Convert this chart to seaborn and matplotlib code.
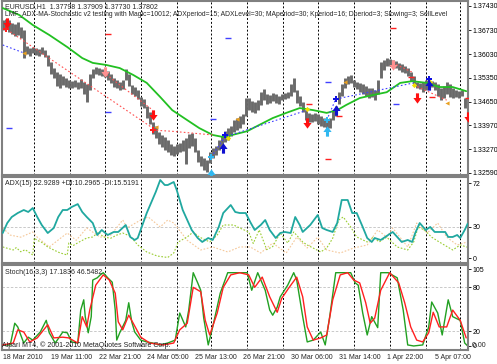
import seaborn as sns
import matplotlib.pyplot as plt
from matplotlib.path import Path

# ---------------- data ----------------
# H1 bars, one entry every 2 hours (bar index 0, 2, 4, ...)
bar_high = [1.3702, 1.3705, 1.3702, 1.3694, 1.3691, 1.3697, 1.3682, 1.3673, 1.3627, 1.3621,
            1.3624, 1.3621, 1.3618, 1.3624, 1.3615, 1.3601, 1.3580, 1.3563, 1.3551, 1.3546,
            1.3540, 1.3534, 1.3528, 1.3525, 1.3528, 1.3522, 1.3531, 1.3522, 1.3517,
            1.3546, 1.3560, 1.3566, 1.3563, 1.3560, 1.3557, 1.3554, 1.3546, 1.3534, 1.3528,
            1.3522, 1.3528, 1.3560, 1.3546, 1.3514, 1.3508, 1.3499, 1.3479, 1.3473, 1.3453,
            1.3436, 1.3407, 1.3395, 1.3378, 1.3369, 1.3363, 1.3354, 1.3343, 1.3337, 1.3343,
            1.3346, 1.3354, 1.3360, 1.3372, 1.3375, 1.3360, 1.3325, 1.3308, 1.3302, 1.3296,
            1.3320, 1.3331, 1.3337, 1.3354, 1.3366, 1.3380, 1.3389, 1.3395, 1.3412, 1.3418,
            1.3424, 1.3430, 1.3476, 1.3476, 1.3467, 1.3465, 1.3470, 1.3493, 1.3502, 1.3488,
            1.3485, 1.3491, 1.3488, 1.3482, 1.3488, 1.3491, 1.3493, 1.3517, 1.3534, 1.3499,
            1.3482, 1.3465, 1.3441, 1.3433, 1.3430, 1.3433, 1.3430, 1.3424, 1.3418, 1.3412,
            1.3418, 1.3441, 1.3453, 1.3493, 1.3517, 1.3534, 1.3540, 1.3543, 1.3528, 1.3522,
            1.3520, 1.3517, 1.3511, 1.3505, 1.3505, 1.3499, 1.3528, 1.3580, 1.3586, 1.3592,
            1.3589, 1.3586, 1.3583, 1.3578, 1.3575, 1.3569, 1.3563, 1.3551, 1.3540, 1.3522,
            1.3520, 1.3522, 1.3528, 1.3528, 1.3525, 1.3522, 1.3517, 1.3505, 1.3511, 1.3522,
            1.3517, 1.3505, 1.3499, 1.3496, 1.3499, 1.3476, 1.3459]
bar_low = [1.3673, 1.3679, 1.3668, 1.3662, 1.3656, 1.3659, 1.3650, 1.3592, 1.3604, 1.3598,
           1.3607, 1.3601, 1.3598, 1.3604, 1.3595, 1.3569, 1.3546, 1.3534, 1.3511, 1.3505,
           1.3514, 1.3508, 1.3505, 1.3505, 1.3508, 1.3502, 1.3505, 1.3488, 1.3465,
           1.3499, 1.3534, 1.3546, 1.3543, 1.3540, 1.3537, 1.3528, 1.3520, 1.3508, 1.3505,
           1.3499, 1.3502, 1.3528, 1.3511, 1.3488, 1.3482, 1.3473, 1.3453, 1.3447, 1.3418,
           1.3401, 1.3372, 1.3360, 1.3343, 1.3334, 1.3325, 1.3320, 1.3311, 1.3308, 1.3314,
           1.3320, 1.3322, 1.3285, 1.3331, 1.3337, 1.3320, 1.3291, 1.3279, 1.3267, 1.3262,
           1.3288, 1.3302, 1.3311, 1.3325, 1.3334, 1.3349, 1.3354, 1.3366, 1.3378, 1.3383,
           1.3389, 1.3401, 1.3424, 1.3441, 1.3436, 1.3433, 1.3441, 1.3456, 1.3470, 1.3459,
           1.3462, 1.3467, 1.3462, 1.3459, 1.3470, 1.3473, 1.3476, 1.3482, 1.3493, 1.3462,
           1.3453, 1.3436, 1.3412, 1.3407, 1.3407, 1.3409, 1.3401, 1.3395, 1.3392, 1.3383,
           1.3389, 1.3412, 1.3424, 1.3459, 1.3482, 1.3505, 1.3517, 1.3520, 1.3508, 1.3502,
           1.3493, 1.3488, 1.3482, 1.3476, 1.3479, 1.3470, 1.3488, 1.3534, 1.3557, 1.3569,
           1.3569, 1.3566, 1.3563, 1.3557, 1.3551, 1.3549, 1.3540, 1.3525, 1.3517, 1.3505,
           1.3502, 1.3493, 1.3499, 1.3511, 1.3508, 1.3499, 1.3482, 1.3470, 1.3476, 1.3488,
           1.3479, 1.3476, 1.3479, 1.3476, 1.3482, 1.3447, 1.3418]

ma_x = [0, 11, 20, 31, 43, 53, 60, 69, 78, 87, 96, 105, 113, 123, 131, 140, 147, 153,
        163, 171, 180, 189, 198, 207, 216, 223, 229, 238, 247, 256, 265, 273, 283, 291, 300, 309]
ma_y = [1.3737, 1.3717, 1.3688, 1.3659, 1.3624, 1.3592, 1.3578, 1.3572, 1.3563, 1.3543,
        1.3520, 1.3479, 1.3441, 1.3412, 1.3389, 1.3369, 1.3363, 1.3369, 1.3380, 1.3398,
        1.3418, 1.3433, 1.3447, 1.3441, 1.3433, 1.3441, 1.3456, 1.3476, 1.3485, 1.3493,
        1.3520, 1.3525, 1.3520, 1.3508, 1.3508, 1.3496]

# signal arrows / marks (bar, price)
sell_x, sell_y = [3, 100, 203, 276, 310], [1.3694, 1.3427, 1.3404, 1.3476, 1.3421]
sell_old_x, sell_old_y = [68, 260], [1.3551, 1.3572]
buy_x, buy_y = [147, 222, 284], [1.3331, 1.3441, 1.3514]
buy_old_x, buy_old_y = [139, 216], [1.3256, 1.3380]
cross_blue_x, cross_blue_y = [148, 222, 284], [1.3369, 1.3473, 1.3531]
cross_cyan_x, cross_cyan_y = [139, 216], [1.3305, 1.3412]
cross_red_x, cross_red_y = [2, 100], [1.3676, 1.3383]
yellow_x, yellow_y = [150, 203, 274, 285], [1.3360, 1.3444, 1.3514, 1.3522]
orange_x, orange_y = [14, 102, 156, 228, 296], [1.3607, 1.3392, 1.3415, 1.3522, 1.3462]
dash_red_x = [70, 204, 217, 224, 260, 272, 286, 310]
dash_red_y = [1.3662, 1.3459, 1.3299, 1.3424, 1.3679, 1.3537, 1.3479, 1.3476]
dash_blue_x = [4, 70, 140, 150, 217, 262]
dash_blue_y = [1.3389, 1.3436, 1.3415, 1.3650, 1.3522, 1.3459]

# dotted trade lines (bar, price)
red_lines = [([5, 100], [1.3668, 1.3389]),
             ([67, 100], [1.3551, 1.3441]),
             ([100, 112, 125, 140], [1.3383, 1.3380, 1.3375, 1.3369]),
             ([260, 274], [1.3578, 1.3549]),
             ([274, 296], [1.3514, 1.3470])]
blue_lines = [([0, 14], [1.3630, 1.3607]),
              ([139, 148, 203], [1.3305, 1.3363, 1.3441]),
              ([216, 222, 274], [1.3412, 1.3473, 1.3520])]

adx_x = [0, 3, 6, 10, 14, 17, 20, 23, 26, 30, 34, 37, 40, 43, 46, 50, 53, 56, 60, 63,
         66, 70, 74, 77, 82, 85, 88, 90, 96, 102, 105, 108, 110, 114, 116, 120, 123, 126, 130, 133,
         137, 140, 144, 147, 152, 155, 158, 162, 165, 168, 172, 175, 178, 182, 185, 188, 192, 195, 198, 200,
         205, 210, 213, 216, 220, 223, 226, 230, 233, 236, 240, 243, 246, 248, 252, 255, 260, 263, 266, 270,
         273, 275, 278, 282, 285, 288, 292, 295, 297, 300, 303, 305, 308, 310]
adx_v = [24.0, 33.6, 39.4, 43.2, 46.1, 44.2, 48.0, 39.4, 31.7, 24.0,
         28.8, 39.4, 46.1, 46.1, 49.0, 51.8, 44.2, 39.4, 33.6, 22.1,
         26.9, 22.1, 25.0, 25.0, 31.7, 20.2, 17.3, 19.2, 43.2, 63.4,
         74.9, 70.1, 70.1, 73.0, 65.3, 46.1, 36.5, 26.9, 19.2, 15.4,
         19.2, 17.3, 29.8, 43.2, 50.9, 44.2, 43.2, 43.2, 34.6, 26.9,
         31.7, 36.5, 26.9, 19.2, 24.0, 25.0, 24.0, 39.4, 31.7, 25.0,
         31.7, 41.3, 28.8, 26.9, 25.0, 33.6, 55.7, 55.7, 43.2, 43.2,
         29.8, 19.2, 15.4, 19.2, 17.3, 20.2, 25.0, 20.2, 15.4, 17.3,
         15.4, 24.0, 33.6, 26.9, 29.8, 25.0, 25.0, 25.0, 20.2, 20.2,
         22.1, 19.2, 26.9, 33.0]
pdi_x = [0, 7, 9, 12, 15, 20, 21, 23, 26, 30, 34, 38, 43, 44, 47, 51, 56, 60, 64, 67,
         72, 76, 80, 85, 90, 96, 103, 110, 114, 117, 123, 127, 131, 138, 143, 147, 154, 158, 164, 167,
         171, 176, 180, 185, 190, 194, 200, 203, 212, 216, 220, 224, 227, 232, 236, 243, 247, 251, 256, 263,
         270, 274, 277, 281, 286, 291, 300, 305, 310]
pdi_v = [10.6, 7.7, 10.0, 6.0, 8.0, 2.9, 19.2, 17.0, 15.0, 10.6, 7.7, 5.0, 2.9, 14.4, 12.0, 15.4,
         19.2, 20.2, 25.0, 20.2, 19.0, 22.0, 24.0, 21.0, 12.5, 5.8, 1.9, 0.5, 4.8, 15.4, 20.2,
         25.0, 20.2, 15.4, 22.0, 31.7, 31.7, 28.8, 25.0, 14.0, 27.0, 8.0, 11.0, 24.0, 14.4, 25.0,
         15.4, 12.5, 5.8, 9.6, 19.0, 36.5, 39.4, 29.8, 20.2, 15.4, 20.0, 15.4, 20.0, 10.6, 7.7,
         15.4, 29.8, 27.0, 20.0, 15.4, 7.7, 12.5, 10.3]
mdi_x = [0, 5, 12, 20, 23, 31, 43, 49, 56, 65, 72, 80, 83, 92, 97, 105, 110, 114, 123, 132,
         140, 150, 158, 165, 172, 180, 189, 196, 203, 210, 216, 225, 234, 243, 250, 256, 260, 270, 276, 283,
         290, 296, 303, 310]
mdi_v = [28.8, 22.0, 20.0, 25.0, 20.0, 10.6, 24.0, 17.0, 28.8, 20.0, 22.0, 36.5, 29.0, 36.5,
         39.4, 29.8, 36.5, 33.6, 17.0, 7.7, 10.6, 5.8, 10.6, 10.6, 4.8, 14.4, 4.8, 20.0, 9.6,
         20.0, 7.7, 4.8, 9.6, 12.5, 27.0, 20.0, 28.8, 10.6, 33.6, 24.0, 33.6, 20.0, 12.5, 15.5]

st_main_x = [0, 5, 8, 10, 14, 17, 20, 25, 29, 31, 35, 40, 43, 46, 50, 52, 54, 55, 57, 59,
             60, 63, 65, 67, 70, 73, 75, 76, 78, 82, 84, 86, 88, 92, 96, 100, 105, 110, 115, 118,
             122, 124, 127, 130, 132, 134, 137, 140, 145, 150, 154, 158, 163, 166, 170, 175, 178, 180,
             183, 185, 190, 194, 196, 200, 203, 207, 212, 215, 218, 222, 232, 235, 237, 240, 243, 246,
             250, 252, 257, 263, 267, 270, 274, 280, 284, 286, 290, 293, 297, 300, 305, 308, 310]
st_main_v = [1.4, 1.4, 31, 26, 4, 12, 8, 19, 35, 18, 4, 19, 18, 5.5, 4, 49, 63, 40, 18, 40,
             90, 93, 97, 100, 93, 87, 49, 8, 18, 35, 59, 33, 19, 8, 5.5, 4, 1.4, 4, 8, 45,
             26, 49, 100, 86, 76, 38, 1.4, 26, 72, 100, 100, 100, 100, 76, 100, 76, 49, 42,
             53, 67, 83, 100, 90, 40, 5.5, 8, 19, 1.4, 40, 100, 100, 86, 83, 45, 15, 40,
             25, 100, 100, 93, 49, 1.4, 0, 1.4, 26, 60, 45, 15, 63, 40, 35, 4, 0]
st_sig_x = [0, 7, 10, 14, 18, 23, 30, 34, 40, 44, 50, 53, 56, 58, 62, 67, 71, 75, 77, 80,
            84, 87, 92, 98, 107, 114, 118, 123, 127, 132, 135, 138, 143, 147, 152, 158, 164, 168, 173, 178,
            183, 186, 191, 196, 200, 203, 207, 212, 216, 220, 225, 230, 234, 238, 242, 245, 248, 252, 258, 264,
            268, 272, 276, 280, 284, 287, 291, 296, 300, 305, 309]
st_sig_v = [1.4, 4, 22, 19, 5.5, 11, 29, 11, 12, 11, 4, 40, 26, 49, 83, 97, 90, 72, 33, 22,
            42, 31, 12, 4, 1.4, 4, 22, 31, 80, 74, 35, 15, 45, 80, 97, 100, 97, 80, 94, 67,
            46, 65, 80, 94, 67, 26, 8, 11, 15, 63, 97, 100, 90, 86, 59, 31, 38, 76, 100, 86,
            59, 26, 8, 5.5, 18, 46, 26, 26, 49, 35, 11]

date_x = [0, 32, 64, 96, 128, 160, 192, 224, 256, 288]
date_labels = ["18 Mar 2010", "19 Mar 11:00", "22 Mar 21:00", "24 Mar 05:00", "25 Mar 13:00",
               "26 Mar 21:00", "30 Mar 06:00", "31 Mar 14:00", "1 Apr 22:00", "5 Apr 07:00"]
grid_x = [21, 45, 68, 92, 116, 139, 163, 187, 210, 234, 258, 282, 305]
price_ticks = [1.37430, 1.36730, 1.36030, 1.35350, 1.34650, 1.33970, 1.33270, 1.32590]

# ---------------- style ----------------
sns.set_style("white")
plt.rcParams["font.family"] = ["Liberation Sans", "DejaVu Sans"]
FS = 5

down_arrow = Path([(-0.3, 1), (0.3, 1), (0.3, 0.1), (0.8, 0.1), (0, -1), (-0.8, 0.1), (-0.3, 0.1), (-0.3, 1)])
up_arrow = Path([(x, -y) for x, y in down_arrow.vertices])

fig = plt.figure(figsize=(4.97, 3.64), dpi=100)
L, W = 2 / 497, 466 / 497
ax = fig.add_axes([L, 1 - 175 / 364, W, 174 / 364])
ax_adx = fig.add_axes([L, 1 - 263 / 364, W, 86 / 364])
ax_st = fig.add_axes([L, 1 - 350 / 364, W, 85 / 364])

for a in (ax, ax_adx, ax_st):
    a.set_xlim(-0.5, 310.2)
    for s in a.spines.values():
        s.set_color("#808080")
        s.set_linewidth(1.5)
    for gx in grid_x:
        a.axvline(gx, color="black", lw=0.7, ls=(0, (2, 2)), zorder=1)
    a.yaxis.tick_right()
    a.tick_params(axis="y", direction="out", length=2, width=0.6, pad=1.5, labelsize=FS, colors="black")

# ---- main price panel ----
bar_x = [2 * i for i in range(len(bar_high))]
ax.vlines(bar_x, bar_low, bar_high, color="#6A6A6A", lw=2.1, zorder=2)
sns.lineplot(x=ma_x, y=ma_y, ax=ax, color="#22C022", lw=1.3, zorder=3)
for xs, ys in red_lines:
    ax.plot(xs, ys, color="#FF5050", lw=0.8, ls=(0, (1.5, 2)), zorder=3)
for xs, ys in blue_lines:
    ax.plot(xs, ys, color="#4040FF", lw=0.8, ls=(0, (1.5, 2)), zorder=3)

ax.scatter(dash_red_x, dash_red_y, marker="_", s=25, color="#FF2020", lw=1, zorder=4)
ax.scatter(dash_blue_x, dash_blue_y, marker="_", s=25, color="#4040FF", lw=1, zorder=4)
ax.scatter(orange_x, orange_y, marker="<", s=9, color="#E8A020", lw=0, zorder=4)
ax.scatter(yellow_x, yellow_y, marker="D", s=7, color="#F0E000", lw=0, zorder=4)
ax.scatter(cross_red_x, cross_red_y, marker="P", s=14, color="#FF2020", lw=0, zorder=5)
ax.scatter(cross_blue_x, cross_blue_y, marker="P", s=14, color="#1010E0", lw=0, zorder=5)
ax.scatter(cross_cyan_x, cross_cyan_y, marker="P", s=14, color="#30B8F0", lw=0, zorder=5)
ax.scatter(sell_x, sell_y, marker=down_arrow, s=55, color="#FF1010", lw=0, zorder=6)
ax.scatter(sell_old_x, sell_old_y, marker=down_arrow, s=55, color="#FF9090", lw=0, zorder=6)
ax.scatter(buy_x, buy_y, marker=up_arrow, s=55, color="#1010D0", lw=0, zorder=6)
ax.scatter(buy_old_x, buy_old_y, marker=up_arrow, s=55, color="#30B8F0", lw=0, zorder=6)

ax.set_ylim(1.32529, 1.37575)
ax.set_yticks(price_ticks)
ax.set_yticklabels([f"{p:.5f}" for p in price_ticks])
ax.set_xticks([])
ax.set_xlabel("")
ax.set_ylabel("")
ax.text(0.006, 0.968, "EURUSD,H1  1.37798 1.37909 1.37730 1.37802", transform=ax.transAxes,
        fontsize=FS, va="center", ha="left", zorder=7)
ax.text(0.006, 0.922, "LMF_ADX-MA-Stochastic v2 testing with Magic=10012; ADXperiod=15; "
        "ADXLevel=30; MAperiod=30; Kperiod=16; Dperiod=3; Slowing=3; SellLevel",
        transform=ax.transAxes, fontsize=4.9, va="center", ha="left", zorder=5)

# ---- ADX panel ----
ax_adx.axhline(30, color="#C0C0C0", lw=0.6, ls=(0, (3, 2)), zorder=1)
sns.lineplot(x=mdi_x, y=mdi_v, ax=ax_adx, color="#F5C89A", lw=0.8, ls=(0, (1.5, 1.5)), zorder=2)
sns.lineplot(x=pdi_x, y=pdi_v, ax=ax_adx, color="#9ACD32", lw=0.8, ls=(0, (1.5, 1.5)), zorder=2)
sns.lineplot(x=adx_x, y=adx_v, ax=ax_adx, color="#20A8A0", lw=1.3, zorder=3)
ax_adx.set_ylim(-4.8, 77.8)
ax_adx.set_yticks([72, 30, 0])
ax_adx.set_xticks([])
ax_adx.set_xlabel("")
ax_adx.set_ylabel("")
ax_adx.text(0.006, 0.92, "ADX(15) 32.9289 +DI:10.2965 -DI:15.5191", transform=ax_adx.transAxes,
            fontsize=FS, va="center", ha="left")

# ---- Stochastic panel ----
for lvl in (80, 20):
    ax_st.axhline(lvl, color="#C0C0C0", lw=0.6, ls=(0, (3, 2)), zorder=1)
sns.lineplot(x=st_main_x, y=st_main_v, ax=ax_st, color="#22A022", lw=1.0, zorder=2)
sns.lineplot(x=st_sig_x, y=st_sig_v, ax=ax_st, color="#FF2020", lw=1.0, zorder=3)
ax_st.set_ylim(-5.5, 110.5)
ax_st.set_yticks([105, 80, 20, 0])
ax_st.set_yticklabels(["105", "80", "20", "0"])
ax_st.text(1.0, 0, "  0.00", transform=ax_st.get_yaxis_transform(), fontsize=FS,
           va="center", ha="left", clip_on=False)
ax_st.set_xticks(date_x)
ax_st.set_xticklabels(date_labels, ha="left")
ax_st.tick_params(axis="x", direction="out", length=2, width=0.6, pad=1, labelsize=FS)
ax_st.set_xlabel("")
ax_st.set_ylabel("")
ax_st.text(0.0, 0.06, "Alpari MT4, \u00a9 2001-2010 MetaQuotes Software Corp.", transform=ax_st.transAxes,
           fontsize=FS, va="center", ha="left", color="#202020")
ax_st.text(0.006, 0.915, "Stoch(16,3,3) 17.1836 46.5482", transform=ax_st.transAxes,
           fontsize=FS, va="center", ha="left")

fig.savefig("out.png", dpi=100)
